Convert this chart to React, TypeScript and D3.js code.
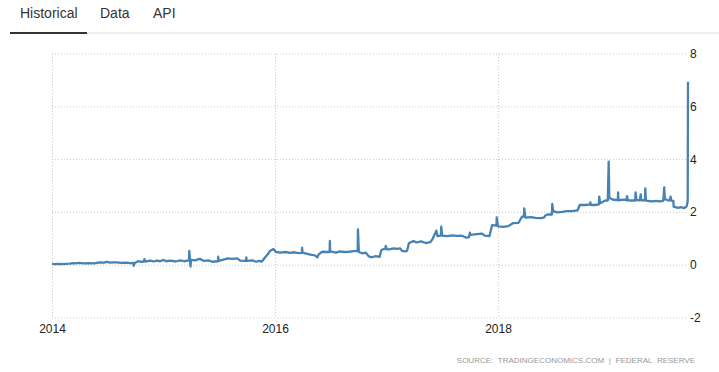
import React from "react";
import * as d3 from "d3";

const tabs = ["Historical", "Data", "API"];
const yTicks = [8, 6, 4, 2, 0, -2];
const xTickYears = [2014, 2016, 2018];
const sourceText = "SOURCE: TRADINGECONOMICS.COM | FEDERAL RESERVE";

const dates2014 = ["2014-01-01","2014-01-10","2014-01-20","2014-02-01","2014-02-15","2014-03-01","2014-03-10","2014-03-20","2014-03-31","2014-04-15","2014-05-01","2014-05-20","2014-06-01","2014-06-10","2014-06-20","2014-06-30","2014-07-10","2014-07-20","2014-08-01","2014-08-15","2014-09-01","2014-09-15","2014-09-24","2014-09-26","2014-09-29","2014-10-10","2014-10-20","2014-10-29","2014-10-31","2014-11-03","2014-11-20","2014-12-01","2014-12-10","2014-12-22","2014-12-31"];
const values2014 = [0.05,0.04,0.05,0.04,0.05,0.06,0.08,0.07,0.09,0.07,0.08,0.07,0.10,0.11,0.10,0.13,0.10,0.11,0.11,0.09,0.10,0.08,0.09,-0.02,0.08,0.15,0.13,0.14,0.23,0.14,0.17,0.14,0.17,0.15,0.20];

const dates2015 = ["2015-01-10","2015-01-25","2015-02-10","2015-02-25","2015-03-10","2015-03-26","2015-03-27","2015-03-31","2015-04-02","2015-04-15","2015-04-30","2015-05-15","2015-05-29","2015-06-10","2015-06-29","2015-06-30","2015-07-01","2015-07-20","2015-08-01","2015-08-15","2015-08-31","2015-09-10","2015-09-29","2015-09-30","2015-10-01","2015-10-20","2015-11-01","2015-11-10","2015-11-20","2015-12-01","2015-12-10","2015-12-17","2015-12-28"];
const values2015 = [0.15,0.17,0.14,0.18,0.15,0.18,0.54,-0.05,0.20,0.18,0.24,0.16,0.18,0.13,0.15,0.32,0.16,0.22,0.26,0.24,0.26,0.17,0.16,0.30,0.16,0.18,0.13,0.16,0.14,0.30,0.42,0.55,0.61];

const dates2016 = ["2016-01-05","2016-01-20","2016-02-05","2016-02-20","2016-03-05","2016-03-20","2016-03-30","2016-03-31","2016-04-01","2016-04-20","2016-05-01","2016-05-10","2016-05-20","2016-05-25","2016-06-05","2016-06-20","2016-06-29","2016-06-30","2016-07-01","2016-07-20","2016-08-01","2016-08-15","2016-09-01","2016-09-15","2016-09-29","2016-09-30","2016-10-03","2016-10-15","2016-10-25","2016-11-05","2016-11-15","2016-11-25","2016-12-10","2016-12-15","2016-12-20","2016-12-29","2016-12-30"];
const values2016 = [0.50,0.48,0.50,0.47,0.49,0.46,0.47,0.66,0.48,0.42,0.39,0.38,0.30,0.42,0.51,0.50,0.50,0.92,0.52,0.48,0.52,0.50,0.51,0.53,0.53,1.36,0.50,0.45,0.48,0.33,0.30,0.34,0.32,0.55,0.60,0.62,0.73];

const dates2017 = ["2017-01-03","2017-01-10","2017-01-25","2017-02-05","2017-02-15","2017-02-22","2017-03-05","2017-03-10","2017-03-16","2017-03-31","2017-04-10","2017-04-25","2017-05-10","2017-05-25","2017-06-01","2017-06-14","2017-06-18","2017-06-29","2017-06-30","2017-07-03","2017-07-20","2017-08-05","2017-08-20","2017-09-01","2017-09-10","2017-09-20","2017-09-29","2017-10-02","2017-10-03","2017-10-25","2017-11-10","2017-11-20","2017-12-05","2017-12-14","2017-12-28","2017-12-29"];
const values2017 = [0.60,0.60,0.64,0.62,0.64,0.54,0.52,0.55,0.83,0.92,0.86,0.90,0.84,0.87,0.98,1.31,1.10,1.12,1.46,1.12,1.10,1.13,1.11,1.12,1.10,1.04,1.06,1.23,1.15,1.18,1.20,1.12,1.10,1.52,1.50,1.81];

const dates2018 = ["2018-01-02","2018-01-20","2018-02-05","2018-02-20","2018-03-10","2018-03-22","2018-03-28","2018-03-29","2018-04-02","2018-04-20","2018-05-05","2018-05-20","2018-06-01","2018-06-08","2018-06-14","2018-06-28","2018-06-29","2018-07-02","2018-07-15","2018-08-01","2018-08-15","2018-09-01","2018-09-20","2018-09-27","2018-10-15","2018-10-31","2018-11-01","2018-11-02","2018-11-15","2018-11-29","2018-11-30","2018-12-03","2018-12-20","2018-12-28","2018-12-31"];
const values2018 = [1.47,1.45,1.48,1.59,1.60,1.84,1.84,2.15,1.80,1.82,1.79,1.78,1.80,1.90,1.92,1.92,2.32,2.05,2.00,2.02,2.05,2.05,2.08,2.28,2.28,2.30,2.38,2.29,2.28,2.30,2.60,2.35,2.45,2.45,3.92];

const dates2019 = ["2019-01-02","2019-01-15","2019-01-30","2019-01-31","2019-02-01","2019-02-20","2019-02-28","2019-03-01","2019-03-04","2019-03-15","2019-03-28","2019-03-29","2019-04-01","2019-04-12","2019-04-15","2019-04-16","2019-04-29","2019-04-30","2019-05-02","2019-05-20","2019-06-05","2019-06-15","2019-06-28","2019-07-01","2019-07-03","2019-07-15","2019-07-19","2019-07-22","2019-07-24","2019-07-31","2019-08-01","2019-08-15","2019-08-25","2019-09-03","2019-09-10","2019-09-13","2019-09-16","2019-09-17"];
const values2019 = [2.55,2.48,2.47,2.76,2.46,2.48,2.46,2.62,2.46,2.45,2.45,2.76,2.47,2.46,2.68,2.46,2.46,2.91,2.45,2.42,2.44,2.42,2.44,2.95,2.50,2.45,2.46,2.60,2.45,2.44,2.22,2.17,2.20,2.16,2.20,2.25,2.43,6.95];

const parse = d3.timeParse("%Y-%m-%d");
const allDates = [...dates2014, ...dates2015, ...dates2016, ...dates2017, ...dates2018, ...dates2019];
const allValues = [...values2014, ...values2015, ...values2016, ...values2017, ...values2018, ...values2019];
const data = allDates.map((d, i) => ({ date: parse(d) as Date, value: allValues[i] }));

export default function App() {
  const W = 719, H = 372;
  const x = d3.scaleTime()
    .domain([parse("2014-01-01") as Date, parse("2019-09-17") as Date])
    .range([52, 688]);
  const y = d3.scaleLinear().domain([-2, 8]).range([318, 54]);
  const line = d3.line<{ date: Date; value: number }>()
    .x(d => x(d.date))
    .y(d => y(d.value));
  const tabX = [20, 100, 153];
  const font = "Arial, 'Liberation Sans', sans-serif";
  return (
    <svg width={W} height={H} style={{ position: "absolute", left: 0, top: 0, background: "#fff" }}>
      {tabs.map((t, i) => (
        <text key={t} x={tabX[i]} y={18} fontSize={14} fontFamily={font} fill="#333">{t}</text>
      ))}
      <line x1={87} x2={719} y1={33} y2={33} stroke="#ddd" strokeWidth={1} />
      <line x1={10} x2={87} y1={33} y2={33} stroke="#333" strokeWidth={2} />
      {yTicks.map(t => (
        <g key={t}>
          <line x1={52} x2={688} y1={y(t)} y2={y(t)} stroke="#c8c8c8" strokeDasharray="1,2" />
          <text x={690} y={y(t) + 4} fontSize={12} fontFamily={font} fill="#222">{t}</text>
        </g>
      ))}
      {xTickYears.map(yr => {
        const xx = Math.round(x(new Date(yr, 0, 1))) + 0.5;
        return (
          <g key={yr}>
            <line x1={xx} x2={xx} y1={54} y2={318} stroke="#c8c8c8" strokeDasharray="1,2" />
            <text x={xx} y={333} fontSize={12} fontFamily={font} fill="#222" textAnchor="middle">{yr}</text>
          </g>
        );
      })}
      <path d={line(data) || ""} fill="none" stroke="#4682b4" strokeWidth={2.3} strokeLinejoin="round" />
      <text x={695} y={363} fontSize={8} fontFamily={font} fill="#999" textAnchor="end" letterSpacing={0} wordSpacing={2.5}>{sourceText}</text>
    </svg>
  );
}
